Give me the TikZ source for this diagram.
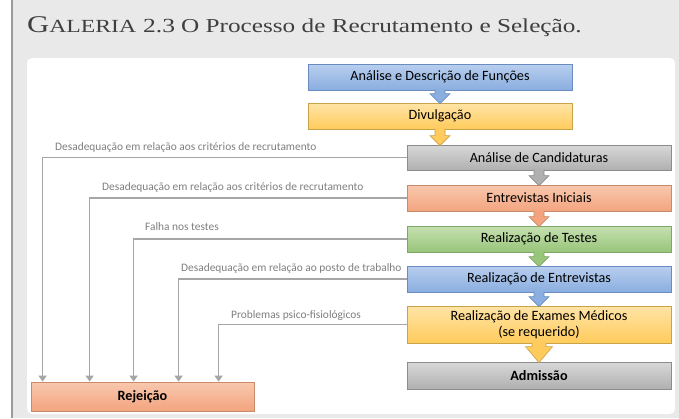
\documentclass[tikz,border=0pt]{standalone}
\usepackage{fontspec}
\setmainfont{Carlito}
\newfontfamily\titlefont[FakeStretch=1.28]{Liberation Serif}
\usetikzlibrary{calc,arrows.meta}
\definecolor{bgc}{HTML}{E9E9E9}
\definecolor{barc}{HTML}{9B9B9B}
\definecolor{titc}{HTML}{3F3F3F}
\definecolor{linec}{HTML}{A6A6A6}
\definecolor{labc}{HTML}{7F7F7F}
\definecolor{blueT}{HTML}{B8CEEE}
\definecolor{blueB}{HTML}{8AAEE0}
\definecolor{blueD}{HTML}{6A8CBF}
\definecolor{yelT}{HTML}{FFE4A6}
\definecolor{yelB}{HTML}{FFCB5C}
\definecolor{yelD}{HTML}{C9A34A}
\definecolor{greyT}{HTML}{D8D8D8}
\definecolor{greyB}{HTML}{B0B0B0}
\definecolor{greyD}{HTML}{8C8C8C}
\definecolor{salT}{HTML}{F8C8AE}
\definecolor{salB}{HTML}{F3A47F}
\definecolor{salD}{HTML}{C78A6A}
\definecolor{grnT}{HTML}{C6E0B0}
\definecolor{grnB}{HTML}{98C57A}
\definecolor{grnD}{HTML}{7FA765}
\tikzset{
  box/.style={minimum width=264, minimum height=26, inner sep=0pt, align=center,
    font=\fontsize{14.2}{15.5}\selectfont, line width=0.8pt},
  bluebox/.style={box, top color=blueT, bottom color=blueB, draw=blueD},
  yelbox/.style={box, top color=yelT, bottom color=yelB, draw=yelD},
  greybox/.style={box, top color=greyT, bottom color=greyB, draw=greyD},
  salbox/.style={box, top color=salT, bottom color=salB, draw=salD},
  grnbox/.style={box, top color=grnT, bottom color=grnB, draw=grnD},
  rejline/.style={draw=linec, line width=1.6pt, -{Triangle[width=8pt,length=6pt]}},
  lab/.style={text=labc, font=\fontsize{11.4}{13}\selectfont, inner sep=0pt, anchor=base west},
}
\newcommand\blockarr[6]{%
  \draw[#3, line width=0.6pt, line join=miter]
    ($(#1.south)+(-#4,-0.5)$) -- ($(#1.south |- #2.north)+(-#4,-#6)$)
    -- ($(#1.south |- #2.north)+(-#5,-#6)$) -- ($(#1.south |- #2.north)+(0,1)$)
    -- ($(#1.south |- #2.north)+(#5,-#6)$) -- ($(#1.south |- #2.north)+(#4,-#6)$)
    -- ($(#1.south)+(#4,-0.5)$);}
\begin{document}
\begin{tikzpicture}[x=1pt,y=-1pt]
\useasboundingbox (0,0) rectangle (679,418);
\fill[white] (0,0) rectangle (679,418);
\fill[bgc] (13,0) rectangle (679,418);
\fill[barc] (10.5,0) rectangle (13,418);
\fill[white, rounded corners=5pt] (27,58) rectangle (675,414);

\node[anchor=base west, inner sep=0pt, text=titc] (title) at (27,32)
  {\titlefont{\fontsize{24}{24}\selectfont G}{\fontsize{18.5}{18.5}\selectfont ALERIA}\hspace{7pt}%
   {\fontsize{20}{20}\selectfont 2.3}\hspace{6pt}%
   \fontsize{19.7}{20}\selectfont O Processo de Recrutamento e Seleção.};

\node[bluebox] (ana) at (440,77) {Análise e Descrição de Funções};
\node[yelbox] (div) at (440,116) {Divulgação};
\node[greybox, minimum height=25] (cand) at (539,157.5) {Análise de Candidaturas};
\node[salbox] (ent) at (539,198) {Entrevistas Iniciais};
\node[grnbox] (test) at (539,239) {Realização de Testes};
\node[bluebox] (rent) at (539,279) {Realização de Entrevistas};
\node[yelbox, minimum height=37] (exam) at (539,324.5) {Realização de Exames Médicos\\(se requerido)};
\node[greybox, minimum height=27, font=\fontsize{14.2}{15.5}\selectfont\bfseries] (adm) at (539,375.5) {Admissão};
\node[salbox, minimum width=223, minimum height=29, font=\fontsize{14.2}{15.5}\selectfont\bfseries] (rej) at (142.5,396.5) {Rejeição};

\blockarr{ana}{div}{fill=blueB, draw=blueD}{5}{10}{9}
\blockarr{div}{cand}{fill=yelB, draw=yelD}{5}{10}{9}
\blockarr{cand}{ent}{fill=greyB, draw=greyD}{5}{10}{9}
\blockarr{ent}{test}{fill=salB, draw=salD}{5}{10}{9}
\blockarr{test}{rent}{fill=grnB, draw=grnD}{5}{10}{9}
\blockarr{rent}{exam}{fill=blueB, draw=blueD}{5}{10}{9}
\blockarr{exam}{adm}{fill=yelB, draw=yelD}{7}{13.5}{15}

\draw[rejline] (cand.west) -| ($(rej.north west)+(12,0)$);
\draw[rejline] (ent.west) -| ($(rej.north west)+(59,0)$);
\draw[rejline] (test.west) -| ($(rej.north west)+(103,0)$);
\draw[rejline] (rent.west) -| ($(rej.north west)+(148,0)$);
\draw[rejline] (exam.west) -| ($(rej.north west)+(188,0)$);

\node[lab] (l1) at (55,150) {Desadequação em relação aos critérios de recrutamento};
\node[lab] (l2) at (102,190) {Desadequação em relação aos critérios de recrutamento};
\node[lab] (l3) at (145,230) {Falha nos testes};
\node[lab] (l4) at (181,271) {Desadequação em relação ao posto de trabalho};
\node[lab] (l5) at (231,318) {Problemas psico-fisiológicos};
\end{tikzpicture}
\end{document}
